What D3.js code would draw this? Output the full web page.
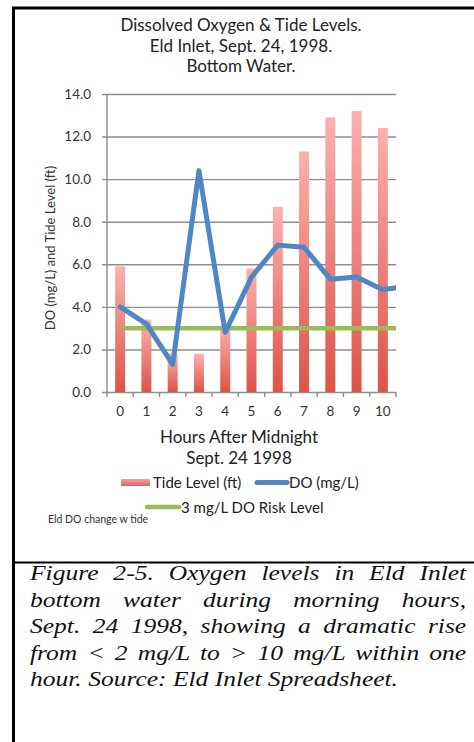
<!DOCTYPE html>
<html>
<head>
<meta charset="utf-8">
<script src="https://cdn.jsdelivr.net/npm/d3@7"></script>
<style>
  body { margin: 0; background: #fff; }
  #wrap { position: relative; width: 474px; height: 742px; overflow: hidden; }
  svg { position: absolute; left: 0; top: 0; }
  #caption {
    position: absolute; left: 30px; top: 560px; width: 359px;
    transform: scaleX(1.215); transform-origin: 0 0;
    font-family: "Liberation Serif", "Times New Roman", "DejaVu Serif", serif;
    font-style: italic; font-size: 21px; line-height: 26.5px; color: #111;
  }
  #caption div { text-align: justify; text-align-last: justify; white-space: nowrap; }
  #caption div.last { text-align-last: left; }
</style>
</head>
<body>
<div id="wrap">
<svg id="chart"></svg>
<div id="caption"></div>
</div>
<script>
const hours = [0, 1, 2, 3, 4, 5, 6, 7, 8, 9, 10];
const tide = [5.9, 3.4, 1.8, 1.8, 3.1, 5.8, 8.7, 11.3, 12.9, 13.2, 12.4];
// DO readings; the last one (hour 11) only shows as the line running off the right edge
const doHours = [0, 1, 2, 3, 4, 5, 6, 7, 8, 9, 10, 11];
const doVals = [4.0, 3.2, 1.3, 10.4, 2.8, 5.4, 6.9, 6.8, 5.3, 5.4, 4.8, 5.0];
const riskHours = [0, 11];
const riskVals = [3.0, 3.0];
const yTicks = [0, 2, 4, 6, 8, 10, 12, 14];

const titleLines = ['Dissolved Oxygen & Tide Levels.', 'Eld Inlet, Sept. 24, 1998.', 'Bottom Water.'];
const xTitleLines = ['Hours After Midnight', 'Sept. 24 1998'];
const captionLines = [
  'Figure 2-5.  Oxygen levels in Eld Inlet',
  'bottom water during morning hours,',
  'Sept. 24 1998, showing a dramatic rise',
  'from < 2 mg/L to > 10 mg/L within one',
  'hour. Source: Eld Inlet Spreadsheet.'
];

const width = 474, height = 742;
const plotLeft = 107, plotRight = 396, plotTop = 94, plotBottom = 392;
const font = 'Lato, "Open Sans", sans-serif';

const svg = d3.select('#chart')
  .attr('width', width)
  .attr('height', height)
  .attr('viewBox', [0, 0, width, height]);

// frame
svg.append('path')
  .attr('d', `M13.5,${height} V8 H${width}`)
  .attr('fill', 'none').attr('stroke', '#000').attr('stroke-width', 3);
svg.append('line')
  .attr('x1', 13).attr('x2', width).attr('y1', 562.5).attr('y2', 562.5)
  .attr('stroke', '#000').attr('stroke-width', 2);

const defs = svg.append('defs');
const grad = defs.append('linearGradient')
  .attr('id', 'barGrad').attr('x1', 0).attr('y1', 0).attr('x2', 0).attr('y2', 1);
grad.append('stop').attr('offset', '0%').attr('stop-color', '#fdb0ae');
grad.append('stop').attr('offset', '100%').attr('stop-color', '#dc5448');
const lgrad = defs.append('linearGradient')
  .attr('id', 'legGrad').attr('x1', 0).attr('y1', 0).attr('x2', 0).attr('y2', 1);
lgrad.append('stop').attr('offset', '0%').attr('stop-color', '#f9a3a1');
lgrad.append('stop').attr('offset', '100%').attr('stop-color', '#e2625a');
defs.append('clipPath').attr('id', 'plotClip')
  .append('rect').attr('x', plotLeft).attr('y', plotTop - 10)
  .attr('width', plotRight - plotLeft).attr('height', plotBottom - plotTop + 20);

const x = d3.scaleBand().domain(hours).range([plotLeft, plotRight]);
const xPos = d3.scaleLinear().domain([-0.5, 10.5]).range([plotLeft, plotRight]);
const y = d3.scaleLinear().domain([0, 14]).range([plotBottom, plotTop]);

// title
svg.append('g').selectAll('text')
  .data(titleLines).enter().append('text')
  .attr('x', 241)
  .attr('y', (d, i) => 31 + i * 20.5)
  .attr('text-anchor', 'middle')
  .style('font-family', font).style('font-size', '17px').style('fill', '#222')
  .text(d => d);

// y axis + gridlines
const yAxis = svg.append('g')
  .attr('transform', `translate(${plotLeft},0)`)
  .call(d3.axisLeft(y).tickValues(yTicks).tickFormat(d3.format('.1f')).tickSize(5).tickPadding(11));
yAxis.select('.domain').remove();
yAxis.selectAll('.tick line')
  .attr('x1', -5).attr('x2', plotRight - plotLeft)
  .attr('stroke', '#8e8e8e').attr('stroke-width', 1.4);
yAxis.selectAll('.tick text')
  .style('font-family', font).style('font-size', '13.5px').style('fill', '#333');
svg.append('line')
  .attr('x1', plotLeft).attr('x2', plotLeft).attr('y1', plotTop).attr('y2', plotBottom)
  .attr('stroke', '#8e8e8e').attr('stroke-width', 1.4);

// x axis
const xAxis = svg.append('g')
  .attr('transform', `translate(0,${plotBottom})`)
  .call(d3.axisBottom(x).tickSize(0).tickPadding(14));
xAxis.select('.domain').remove();
xAxis.selectAll('.tick text')
  .style('font-family', font).style('font-size', '13.5px').style('fill', '#333');
svg.append('g').selectAll('line')
  .data(d3.range(hours.length + 1)).enter().append('line')
  .attr('x1', d => xPos(d - 0.5)).attr('x2', d => xPos(d - 0.5))
  .attr('y1', plotBottom).attr('y2', plotBottom + 5)
  .attr('stroke', '#8e8e8e').attr('stroke-width', 1.4);

// y title
svg.append('text')
  .attr('transform', 'translate(55,248) rotate(-90)')
  .attr('text-anchor', 'middle')
  .style('font-family', font).style('font-size', '13px').style('fill', '#333')
  .text('DO (mg/L) and Tide Level (ft)');

// x title
svg.append('g').selectAll('text')
  .data(xTitleLines).enter().append('text')
  .attr('x', 239)
  .attr('y', (d, i) => 443 + i * 21)
  .attr('text-anchor', 'middle')
  .style('font-family', font).style('font-size', '17px').style('fill', '#222')
  .text(d => d);

// bars
const barW = x.bandwidth() * 0.38;
svg.append('g').selectAll('rect')
  .data(tide).enter().append('rect')
  .attr('x', (d, i) => x(hours[i]) + (x.bandwidth() - barW) / 2)
  .attr('y', d => y(d))
  .attr('width', barW)
  .attr('height', d => plotBottom - y(d))
  .attr('fill', 'url(#barGrad)');

const plot = svg.append('g').attr('clip-path', 'url(#plotClip)');

// risk level line
plot.append('path')
  .datum(riskVals)
  .attr('d', d3.line().x((d, i) => xPos(riskHours[i])).y(d => y(d)))
  .attr('fill', 'none').attr('stroke', '#9bbb59').attr('stroke-width', 4.5);

// DO line
plot.append('path')
  .datum(doVals)
  .attr('d', d3.line().x((d, i) => xPos(doHours[i])).y(d => y(d)))
  .attr('fill', 'none').attr('stroke', '#4f86c4').attr('stroke-width', 5)
  .attr('stroke-linejoin', 'round').attr('stroke-linecap', 'round');

// legend
const leg = svg.append('g').style('font-family', font).style('font-size', '15px').style('fill', '#222');
leg.append('rect').attr('x', 121).attr('y', 479).attr('width', 29).attr('height', 7).attr('fill', 'url(#legGrad)');
leg.append('text').attr('x', 153).attr('y', 488).text('Tide Level (ft)');
leg.append('line').attr('x1', 257).attr('x2', 287).attr('y1', 482.5).attr('y2', 482.5)
  .attr('stroke', '#4f86c4').attr('stroke-width', 5).attr('stroke-linecap', 'round');
leg.append('text').attr('x', 289).attr('y', 488).text('DO (mg/L)');
leg.append('line').attr('x1', 147).attr('x2', 179).attr('y1', 507).attr('y2', 507)
  .attr('stroke', '#9bbb59').attr('stroke-width', 4.5).attr('stroke-linecap', 'round');
leg.append('text').attr('x', 181).attr('y', 513).text('3 mg/L DO Risk Level');

svg.append('text')
  .attr('x', 48).attr('y', 523)
  .style('font-family', font).style('font-size', '10.5px').style('fill', '#333')
  .text('Eld DO change w tide');

// caption
d3.select('#caption').selectAll('div')
  .data(captionLines).enter().append('div')
  .attr('class', (d, i) => i === captionLines.length - 1 ? 'last' : null)
  .text(d => d);
</script>
</body>
</html>
